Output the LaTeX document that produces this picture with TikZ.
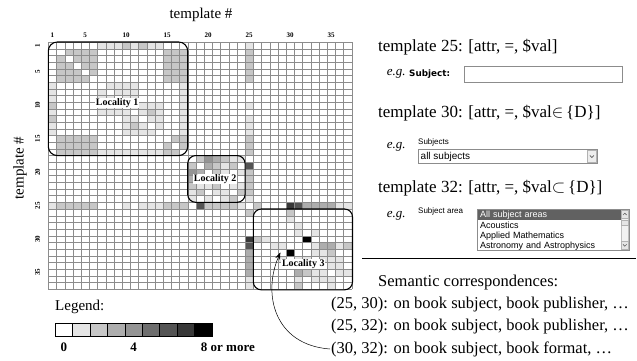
\documentclass[tikz,border=0pt]{standalone}
\usepackage{fontspec}
\setmainfont{Liberation Serif}
\setsansfont{Liberation Sans}
\newfontfamily\uifont{DejaVu Sans}
\usetikzlibrary{arrows.meta}
\usetikzlibrary{positioning}

% Shades for the number of correspondences
\colorlet{lv0}{white}
\colorlet{lv1}{black!10}
\colorlet{lv2}{black!22}
\colorlet{lv3}{black!32}
\colorlet{lv4}{black!42}
\colorlet{lv5}{black!57}
\colorlet{lv6}{black!67}
\colorlet{lv7}{black!78}
\colorlet{lv8}{black}

\begin{document}
\begin{tikzpicture}[x=1pt, y=-1pt, every node/.style={inner sep=0pt},
    gridline/.style={draw=black!45, line width=0.35pt},
    localbox/.style={draw=black, line width=1.1pt, rounded corners=8pt},
    loclabel/.style={font=\fontsize{10pt}{12pt}\selectfont\bfseries, fill=white, inner sep=0.6pt},
    ticklabel/.style={font=\fontsize{7pt}{8pt}\selectfont\bfseries},
    axistitle/.style={font=\fontsize{15pt}{18pt}\selectfont},
    heading/.style={font=\fontsize{17pt}{20pt}\selectfont, anchor=west},
    corrtext/.style={font=\fontsize{16.5pt}{19pt}\selectfont, anchor=west},
    egtext/.style={font=\fontsize{13pt}{15pt}\selectfont\itshape, anchor=west},
    uilabel/.style={font=\uifont\bfseries\fontsize{8.8pt}{10pt}\selectfont, anchor=west},
    formlabel/.style={font=\sffamily\fontsize{8pt}{9pt}\selectfont, anchor=west},
    formtext/.style={font=\sffamily\fontsize{10pt}{12pt}\selectfont, anchor=west},
    inputbox/.style={draw=black!45, fill=white, line width=0.6pt, minimum width=158pt, minimum height=16.5pt},
    dropbtn/.style={draw=black!30, fill=black!7, minimum width=9pt, minimum height=12pt},
    listitem/.style={font=\sffamily\fontsize{9pt}{10pt}\selectfont, text width=139pt, align=left,
      inner xsep=2pt, inner ysep=0pt, minimum height=10pt, anchor=north west},
    selitem/.style={listitem, fill=black!62, text=white},
    scrollbar/.style={draw=black!25, fill=black!5, minimum width=7.5pt, minimum height=39pt},
    sbbtn/.style={draw=black!30, fill=black!10, minimum width=7.5pt, minimum height=8pt},
    legendbox/.style={draw=black, line width=0.5pt, minimum width=17.4pt, minimum height=13pt, anchor=north west},
    legendnum/.style={font=\fontsize{13pt}{15pt}\selectfont\bfseries},
    corrarrow/.style={-{Stealth[length=7pt, width=5pt]}, line width=0.5pt},
    rulebar/.style={line width=1pt}]

    \useasboundingbox (0,0) rectangle (637,360);

    % Number of templates
    \def\ncells{37}

    % Axis titles
    \node[axistitle] (xtitle) at (201,15) {template \#};
    \node[axistitle, rotate=90] (ytitle) at (20,168) {template \#};

    % Correspondence matrix, one unit per cell
    \begin{scope}[shift={(48.3pt,-42pt)}, x=8.2pt, y=-6.68pt]

      % Blocks of cells (rows from/to, columns from/to, shade), mirrored
      \foreach \ra/\rb/\ca/\cb/\lv in {1/1/7/14/1, 7/9/7/11/1, 10/14/10/13/1, 7/14/17/17/1,
          2/6/2/6/2, 2/6/15/17/2, 15/17/15/17/2, 2/6/25/25/2, 1/1/25/25/1,
          12/14/25/25/1, 15/17/25/25/2, 20/23/25/25/2, 32/35/25/25/3,
          36/37/25/25/1, 33/36/34/36/1} {
        \fill[fill=lv\lv] (\ca-1,\ra-1) rectangle (\cb,\rb);
        \fill[fill=lv\lv] (\ra-1,\ca-1) rectangle (\rb,\cb);
      }

      % Single cells (row, column, shade), mirrored
      \foreach \ri/\ci/\lv in {1/10/2, 1/12/2, 11/13/2, 10/25/1,
          18/19/2, 18/20/4, 18/21/3, 18/22/2, 18/23/1, 18/24/1,
          19/20/3, 19/21/2, 19/22/1, 19/23/2, 20/21/2, 20/22/1, 20/24/1,
          21/22/2, 21/23/1, 22/23/1, 22/24/1, 23/24/2,
          19/25/6, 24/25/1, 25/26/2, 25/30/7, 25/31/6,
          26/30/2, 27/30/1, 28/31/1, 29/31/1, 29/33/1, 30/32/8,
          31/33/1, 31/34/3, 31/35/3, 31/36/1, 31/37/2,
          32/33/1, 32/34/1, 32/35/2, 33/35/1, 34/36/1, 35/37/1} {
        \fill[fill=lv\lv] (\ci-1,\ri-1) rectangle (\ci,\ri);
        \fill[fill=lv\lv] (\ri-1,\ci-1) rectangle (\ri,\ci);
      }

      % The diagonal stays empty
      \foreach \i in {1,...,\ncells}
        \fill[white] (\i-1,\i-1) rectangle (\i,\i);

      % Grid lines
      \foreach \i in {0,...,\ncells} {
        \draw[gridline] (\i,0) -- (\i,\ncells);
        \draw[gridline] (0,\i) -- (\ncells,\i);
      }

      % Tick labels
      \foreach \i in {1,5,10,15,20,25,30,35} {
        \node[ticklabel] (col\i) at (\i-0.5,-1.05) {\i};
        \node[ticklabel, rotate=90] (row\i) at (-1.3,\i-0.5) {\i};
      }

      % Localities
      \draw[localbox, rounded corners=9pt] (0,0) rectangle (17,17);
      \draw[localbox] (17,17) rectangle (24,24);
      \draw[localbox] (25,25) rectangle (37.1,37.1);
      \node[loclabel] (loc1) at (8.4,9.1) {Locality 1};
      \node[loclabel] (loc2) at (20.35,20.5) {Locality 2};
      \node[loclabel] (loc3) at (31.1,33.25) {Locality 3};

      % Cell the arrow points at
      \coordinate (tip) at (28.3,31.5);
    \end{scope}

    % Legend
    \node[axistitle, anchor=west] (legend) at (55,307) {Legend:};
    \foreach \i in {0,...,8}
      \node[legendbox, fill=lv\i] (leg\i) at ({55+17.4*\i},322.7) {};
    \node[legendnum, below=6.5pt of leg0] (lab0) {0};
    \node[legendnum, below=6.5pt of leg4] (lab4) {4};
    \node[legendnum, anchor=north west] (lab8) at ([shift={(6.5pt,-6.5pt)}]leg8.south west) {8 or more};

    % Template 25
    \node[heading] (t25) at (378,47) {template 25: [attr, =, \$val]};
    \node[egtext] (eg25) at (386.7,74) {e.g.};
    \node[uilabel] (lab25) at (409,74) {Subject:};
    \node[inputbox, anchor=west] (box25) at (464,74.5) {};

    % Template 30
    \node[heading] (t30) at (378,113) {template 30: [attr, =, \$val$\in$\,\{D\}]};
    \node[egtext] (eg30) at (386.7,147) {e.g.};
    \node[formlabel] (lab30) at (418,142) {Subjects};
    \node[inputbox, minimum width=179pt, minimum height=14.5pt, anchor=west] (box30) at (418,156.5) {};
    \node[formtext] (val30) at ([xshift=2.5pt]box30.west) {all subjects};
    \node[dropbtn, anchor=east] (btn30) at ([xshift=-1pt]box30.east) {};
    \draw[black!65, line width=0.8pt] ([shift={(-2pt,1pt)}]btn30.center) -- ([shift={(0pt,-1pt)}]btn30.center)
      -- ([shift={(2pt,1pt)}]btn30.center);

    % Template 32
    \node[heading] (t32) at (378,188) {template 32: [attr, =, \$val$\subset$\,\{D\}]};
    \node[egtext] (eg32) at (386.7,216) {e.g.};
    \node[formlabel] (lab32) at (418,211) {Subject area};
    \node[inputbox, minimum width=152pt, minimum height=41pt, anchor=north west] (box32) at (477,209) {};
    \node[selitem] (item1) at ([shift={(1pt,-1pt)}]box32.north west) {All subject areas};
    \node[listitem] (item2) at (item1.south west) {Acoustics};
    \node[listitem] (item3) at (item2.south west) {Applied Mathematics};
    \node[listitem] (item4) at (item3.south west) {Astronomy and Astrophysics};
    \node[scrollbar, anchor=north east] (sbar) at ([shift={(-0.8pt,-1pt)}]box32.north east) {};
    \node[sbbtn, anchor=north] (sbup) at (sbar.north) {};
    \node[sbbtn, anchor=south] (sbdown) at (sbar.south) {};
    \node[sbbtn, minimum height=5pt, anchor=north] (sbthumb) at ([yshift=-1.5pt]sbup.south) {};
    \draw[black!60, line width=0.6pt] ([shift={(-1.8pt,-0.8pt)}]sbup.center) -- ([shift={(0pt,1pt)}]sbup.center)
      -- ([shift={(1.8pt,-0.8pt)}]sbup.center);
    \draw[black!60, line width=0.6pt] ([shift={(-1.8pt,0.8pt)}]sbdown.center) -- ([shift={(0pt,-1pt)}]sbdown.center)
      -- ([shift={(1.8pt,0.8pt)}]sbdown.center);

    % Separator
    \coordinate (ruleL) at (362,258.3);
    \coordinate (ruleR) at (636,258.3);
    \draw[rulebar] (ruleL) -- (ruleR);

    % Semantic correspondences
    \node[corrtext] (semtitle) at (378,283) {Semantic correspondences:};
    \node[corrtext] (corr1) at (331,305) {(25, 30): on book subject, book publisher, …};
    \node[corrtext] (corr2) at (331,327) {(25, 32): on book subject, book publisher, …};
    \node[corrtext] (corr3) at (331,349) {(30, 32): on book subject, book format, …};

    \draw[corrarrow] ([xshift=-1pt]corr3.west) .. controls (275,345) and (262,295) .. (tip);

\end{tikzpicture}
\end{document}
